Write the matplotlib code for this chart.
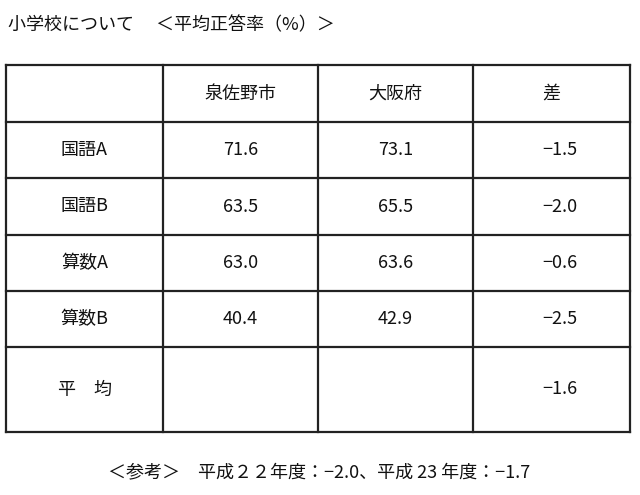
import matplotlib.pyplot as plt

plt.rcParams['font.family'] = ['Noto Sans CJK JP', 'DejaVu Sans']

title = "小学校について　 ＜平均正答率（%）＞"
columns = ["", "泉佐野市", "大阪府", "差"]
subjects = ["国語A", "国語B", "算数A", "算数B", "平　均"]
city = ["71.6", "63.5", "63.0", "40.4", ""]
pref = ["73.1", "65.5", "63.6", "42.9", ""]
diff = ["−1.5", "−2.0", "−0.6", "−2.5", "−1.6"]
note = "＜参考＞　平成２２年度：−2.0、平成 23 年度：−1.7"

col_x = [6, 163, 318, 473, 630]
row_y = [65, 122, 178, 235, 291, 347, 432]

fig = plt.figure(figsize=(6.4, 4.95), dpi=100)
ax = fig.add_axes([0, 0, 1, 1])
ax.set_xlim(0, 640)
ax.set_ylim(495, 0)
ax.axis('off')

for x in col_x:
    ax.plot([x, x], [row_y[0], row_y[-1]], color='#222222', lw=1.6)
for y in row_y:
    ax.plot([col_x[0], col_x[-1]], [y, y], color='#222222', lw=1.6)

rows = [columns] + [[s, c, p, d] for s, c, p, d in zip(subjects, city, pref, diff)]
for r, row in enumerate(rows):
    yc = (row_y[r] + row_y[r + 1]) / 2
    for c, txt in enumerate(row):
        xc = (col_x[c] + col_x[c + 1]) / 2
        if c == 3 and r > 0:
            xc += 8
        ax.text(xc, yc, txt, ha='center', va='center', fontsize=13, color='#111111')

ax.text(8, 25, title, ha='left', va='center', fontsize=13, color='#111111')
ax.text(108, 472, note, ha='left', va='center', fontsize=13, color='#111111')

fig.savefig("out.png", dpi=100)
